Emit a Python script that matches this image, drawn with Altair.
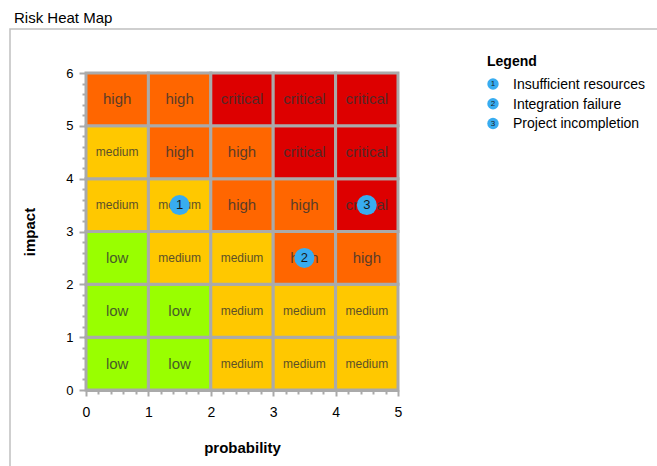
import altair as alt
import pandas as pd

# ---- data ----
probability_start = [0, 1, 2, 3, 4]
impact_start = [0, 1, 2, 3, 4, 5]
risk_levels = [  # one row per impact band (bottom to top), one entry per probability band
    ["low", "low", "medium", "medium", "medium"],
    ["low", "low", "medium", "medium", "medium"],
    ["low", "medium", "medium", "high", "high"],
    ["medium", "medium", "high", "high", "critical"],
    ["medium", "high", "high", "critical", "critical"],
    ["high", "high", "critical", "critical", "critical"],
]
level_names = ["low", "medium", "high", "critical"]
level_colors = ["#99ff00", "#ffc800", "#ff6600", "#dd0000"]

risk_ids = [1, 2, 3]
risk_names = ["Insufficient resources", "Integration failure", "Project incompletion"]
risk_probability = [1.5, 3.5, 4.5]
risk_impact = [3.5, 2.5, 3.5]

x_major = [0, 1, 2, 3, 4, 5]
y_major = [0, 1, 2, 3, 4, 5, 6]
x_minor = [round(i * 0.2, 1) for i in range(26) if i % 5]
y_minor = [round(i * 0.2, 1) for i in range(31) if i % 5]

# ---- tables ----
rows = []
for r, i0 in enumerate(impact_start):
    for c, p0 in enumerate(probability_start):
        rows.append({"p0": p0, "p1": p0 + 1, "pc": p0 + 0.5,
                     "i0": i0, "i1": i0 + 1, "ic": i0 + 0.5,
                     "level": risk_levels[r][c]})
cells = pd.DataFrame(rows)
risks = pd.DataFrame({"id": risk_ids, "name": risk_names,
                      "probability": risk_probability, "impact": risk_impact})

FONT = "Liberation Sans, Arial, sans-serif"
GRAY = "#aaaaaa"
BLUE = "#38acf0"

xs = alt.Scale(domain=[0, 5], nice=False, zero=False)
ys = alt.Scale(domain=[0, 6], nice=False, zero=False)
legend_rows = alt.Scale(domain=[1, 3], range=[11, 50.5])

xaxis = alt.Axis(orient="bottom", values=x_major, format="d", tickSize=6,
                 tickColor=GRAY, tickWidth=2, domainColor=GRAY, domainWidth=3,
                 grid=False, labelFlush=False, labelOverlap=False,
                 labelFont=FONT, labelFontSize=14, labelColor="#000", labelPadding=9,
                 titleFont=FONT, titleFontSize=15, titleFontWeight="bold",
                 titleColor="#000", titlePadding=21)
yaxis = alt.Axis(orient="left", values=y_major, format="d", tickSize=7,
                 tickColor=GRAY, tickWidth=2, domainColor=GRAY, domainWidth=3,
                 grid=False, labelFlush=False, labelOverlap=False,
                 labelFont=FONT, labelFontSize=13, labelColor="#000", labelPadding=6,
                 titleFont=FONT, titleFontSize=15, titleFontWeight="bold",
                 titleColor="#000", titlePadding=28)
xminor = alt.Axis(orient="bottom", values=x_minor, tickSize=4, tickColor=GRAY,
                  tickWidth=2, labels=False, domain=False, grid=False, title=None)
yminor = alt.Axis(orient="left", values=y_minor, tickSize=4, tickColor=GRAY,
                  tickWidth=2, labels=False, domain=False, grid=False, title=None)

frame = alt.Chart(pd.DataFrame({"k": [0]})).mark_rect(
    fillOpacity=0, stroke="#c0c0c0", strokeWidth=1.5
).encode(x=alt.value(-76), x2=alt.value(600), y=alt.value(-44), y2=alt.value(420))

heat = alt.Chart(cells).mark_rect(stroke=GRAY, strokeWidth=3).encode(
    x=alt.X("p0:Q", scale=xs, axis=xaxis, title="probability"),
    x2="p1:Q",
    y=alt.Y("i0:Q", scale=ys, axis=yaxis, title="impact"),
    y2="i1:Q",
    fill=alt.Fill("level:N", scale=alt.Scale(domain=level_names, range=level_colors),
                  legend=None),
)

labels = alt.Chart(cells).mark_text(font=FONT, color="#333333", opacity=0.8).encode(
    x=alt.X("pc:Q", scale=xs, axis=xminor),
    y=alt.Y("ic:Q", scale=ys, axis=yminor),
    text="level:N",
    size=alt.condition("datum.level == 'medium'", alt.value(12), alt.value(15)),
)

dots = alt.Chart(risks).mark_circle(size=400, opacity=1).encode(
    x=alt.X("probability:Q", scale=xs, axis=None),
    y=alt.Y("impact:Q", scale=ys, axis=None),
    color=alt.Color("name:N",
                    scale=alt.Scale(domain=risk_names, range=[BLUE, BLUE, BLUE]),
                    legend=alt.Legend(title="Legend", orient="none", legendX=401, legendY=-18,
                                      titleFont=FONT, titleFontSize=14, titleFontWeight="bold",
                                      titleColor="#000", titlePadding=9,
                                      labelFont=FONT, labelFontSize=14, labelColor="#000",
                                      labelOffset=12, symbolType="circle", symbolSize=130,
                                      symbolStrokeWidth=0, symbolOpacity=0, rowPadding=5.5)),
)

nums = alt.Chart(risks).mark_text(font=FONT, fontSize=13, color="#1a1a1a").encode(
    x=alt.X("probability:Q", scale=xs, axis=None),
    y=alt.Y("impact:Q", scale=ys, axis=None),
    text="id:N",
)

# numbered symbols of the legend, one per legend row
legend_dots = alt.Chart(risks).mark_circle(size=130, opacity=1, color=BLUE).encode(
    x=alt.value(407),
    y=alt.Y("id:Q", scale=legend_rows, axis=None),
)
legend_nums = alt.Chart(risks).mark_text(font=FONT, fontSize=8, color="#1a1a1a").encode(
    x=alt.value(407),
    y=alt.Y("id:Q", scale=legend_rows, axis=None),
    text="id:N",
)

chart = alt.layer(frame, heat, labels, dots, nums, legend_dots, legend_nums).resolve_scale(
    fill="independent", color="independent", y="independent"
).resolve_axis(x="independent", y="independent").properties(
    width=312, height=317,
    padding={"left": 86, "top": 73, "right": 259, "bottom": 76},
    autosize=alt.AutoSizeParams(type="none"),
    title=alt.TitleParams("Risk Heat Map", anchor="start", frame="group", dx=-72,
                          font=FONT, fontSize=15, fontWeight="normal", color="#000",
                          offset=2),
).configure_view(stroke=None)

chart.save("out.html", embed_options={"renderer": "svg", "actions": False})
